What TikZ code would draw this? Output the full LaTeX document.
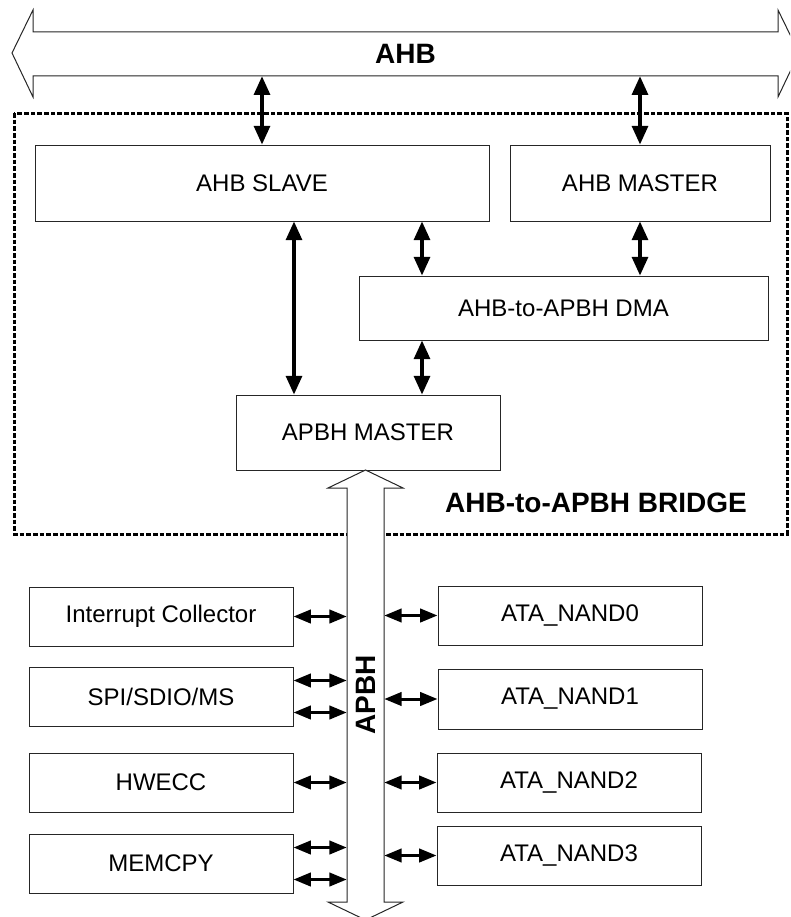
\documentclass[tikz,border=0pt]{standalone}
\usepackage{fontspec}
\setmainfont{Liberation Sans}
\usetikzlibrary{arrows.meta,calc}
\begin{document}
\begin{tikzpicture}[x=0.75pt,y=-0.75pt,
 box/.style={draw=black!85, line width=0.75pt, inner sep=0, fill=white, font=\fontsize{18}{21}\selectfont},
 bus/.style={draw=black!85, line width=0.75pt, fill=white},
 bigarr/.style={line width=2.4pt, {Triangle[length=14pt,width=12pt]}-{Triangle[length=14pt,width=12pt]}},
 smallarr/.style={line width=2.25pt, {Triangle[length=13pt,width=10pt]}-{Triangle[length=13pt,width=10pt]}},
 title/.style={font=\bfseries\fontsize{21}{25}\selectfont, inner sep=0},
 bridge/.style={draw=black, dash pattern=on 3.5pt off 1.5pt, line width=2.25pt}]
\useasboundingbox (0,0) rectangle (790,917);
\clip (0,0) rectangle (790,917);
% bridge frame
\draw[bridge] (14,113) rectangle (787,534);
\node[title] (bridgelbl) at (596,503) {AHB-to-APBH BRIDGE};
% AHB bus
\draw[bus] (12,53) -- (33,10) -- (33,32) -- (778,32) -- (778,10) -- (799,53) -- (778,97) -- (778,76) -- (33,76) -- (33,97) -- cycle;
\node[title, minimum width=558.75pt, minimum height=33pt] (ahb) at (405.5,54) {AHB};
% blocks
\node[box, minimum width=340.5pt, minimum height=57pt] (slave) at (262,183) {AHB SLAVE};
\node[box, minimum width=195pt, minimum height=57pt] (master) at (640,183) {AHB MASTER};
\node[box, minimum width=306.75pt, minimum height=48pt] (dma) at (563.5,308) {AHB-to-APBH DMA};
\node[box, minimum width=198pt, minimum height=56.25pt] (apbhm) at (368,432.5) {APBH MASTER};
\node[box, minimum width=198pt, minimum height=44.25pt] (intc) at (161,616.5) {Interrupt Collector};
\node[box, minimum width=198pt, minimum height=44.25pt] (spi) at (161,696.5) {SPI/SDIO/MS};
\node[box, minimum width=198pt, minimum height=44.25pt] (hwecc) at (161,782.5) {HWECC};
\node[box, minimum width=198pt, minimum height=44.25pt] (memcpy) at (161,863.5) {MEMCPY};
\node[box, minimum width=198pt, minimum height=44.25pt] (nand0) at (570,615.5) {ATA\_NAND0};
\node[box, minimum width=198pt, minimum height=45pt] (nand1) at (570,699) {ATA\_NAND1};
\node[box, minimum width=198pt, minimum height=44.25pt] (nand2) at (569,782.5) {ATA\_NAND2};
\node[box, minimum width=198pt, minimum height=44.25pt] (nand3) at (569,855.5) {ATA\_NAND3};
% APBH bus
\draw[bus] (365.5,470) -- (403,488) -- (384,488) -- (384,902) -- (403,902) -- (365.5,920) -- (328,902) -- (347,902) -- (347,488) -- (328,488) -- cycle;
\node[title, minimum width=27.75pt, minimum height=310.5pt] (apbh) at (365.5,695) {\rotatebox{90}{APBH}};
% AHB-side connectors
\coordinate (xa) at (294,0);
\coordinate (xb) at (422,0);
\draw[bigarr] (ahb.south -| slave.north) -- (slave.north);
\draw[bigarr] (ahb.south -| master.north) -- (master.north);
\draw[bigarr] (slave.south -| xa) -- (apbhm.north -| xa);
\draw[bigarr] (slave.south -| xb) -- (dma.north -| xb);
\draw[bigarr] (master.south) -- (dma.north -| master.south);
\draw[bigarr] (dma.south -| xb) -- (apbhm.north -| xb);
% APBH-side connectors
\coordinate (s1) at ($(spi.east)+(0,-16)$);
\coordinate (s2) at ($(spi.east)+(0,16)$);
\coordinate (m1) at ($(memcpy.east)+(0,-16)$);
\coordinate (m2) at ($(memcpy.east)+(0,16)$);
\draw[smallarr] (intc.east) -- (intc.east -| apbh.west);
\draw[smallarr] (s1) -- (s1 -| apbh.west);
\draw[smallarr] (s2) -- (s2 -| apbh.west);
\draw[smallarr] (hwecc.east) -- (hwecc.east -| apbh.west);
\draw[smallarr] (m1) -- (m1 -| apbh.west);
\draw[smallarr] (m2) -- (m2 -| apbh.west);
\draw[smallarr] (apbh.east |- nand0.west) -- (nand0.west);
\draw[smallarr] (apbh.east |- nand1.west) -- (nand1.west);
\draw[smallarr] (apbh.east |- nand2.west) -- (nand2.west);
\draw[smallarr] (apbh.east |- nand3.west) -- (nand3.west);
\end{tikzpicture}
\end{document}
